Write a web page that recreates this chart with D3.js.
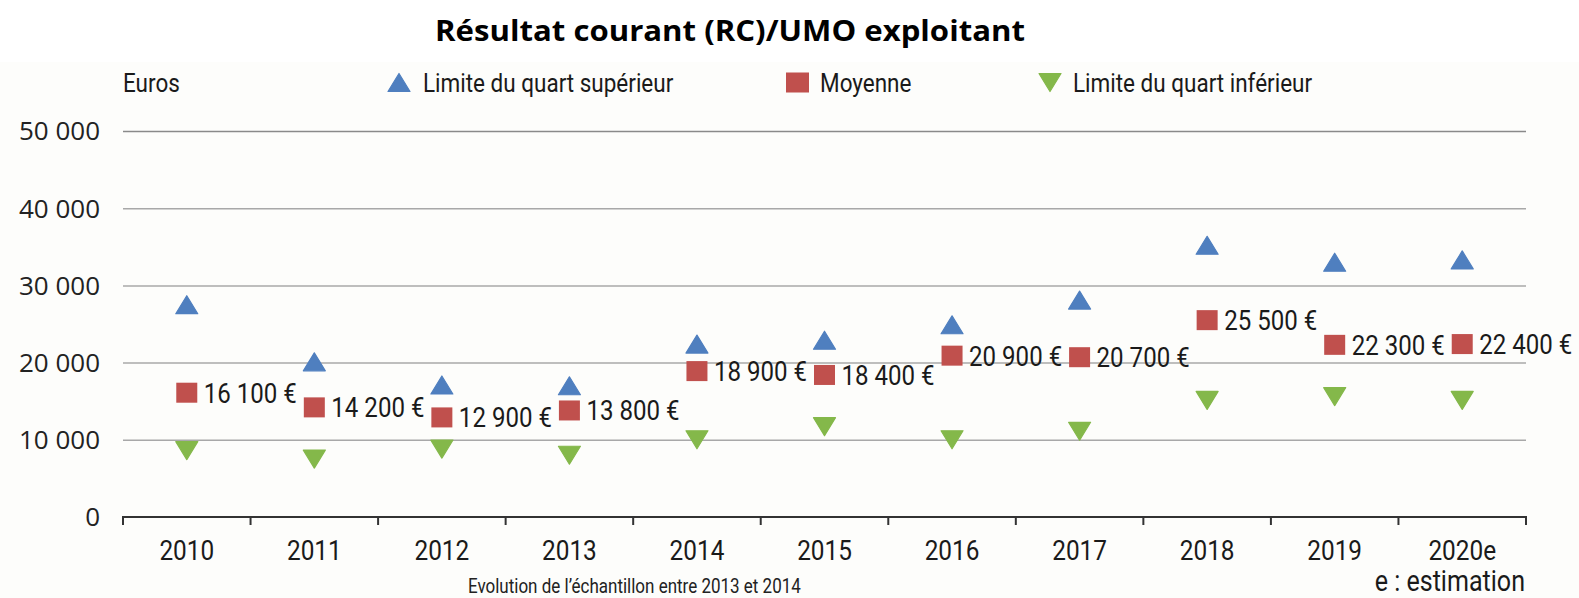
<!DOCTYPE html>
<html>
<head>
<meta charset="utf-8">
<script src="https://cdn.jsdelivr.net/npm/d3@7"></script>
<style>
  html, body { margin: 0; padding: 0; background: #ffffff; }
  svg { display: block; }
</style>
</head>
<body>
<svg id="chart" width="1579" height="598"></svg>
<script>
// ---- Data ----
const years = ["2010","2011","2012","2013","2014","2015","2016","2017","2018","2019","2020e"];
const upperQuartile = [27500, 20100, 17100, 17000, 22400, 22900, 24900, 28100, 35200, 33000, 33300];
const meanValues    = [16100, 14200, 12900, 13800, 18900, 18400, 20900, 20700, 25500, 22300, 22400];
const lowerQuartile = [8600, 7500, 8800, 8000, 10000, 11700, 10000, 11100, 15100, 15600, 15100];
const yTicks = [0, 10000, 20000, 30000, 40000, 50000];
const titleText = "Résultat courant (RC)/UMO exploitant";
const unitText = "Euros";
const legendLabels = ["Limite du quart supérieur", "Moyenne", "Limite du quart inférieur"];
const noteText = "Evolution de l’échantillon entre 2013 et 2014";
const estimationText = "e : estimation";

// ---- Setup ----
const W = 1579, H = 598;
const svg = d3.select("#chart");
const COND = "Roboto, 'Liberation Sans', sans-serif";
const BLUE = "#4f7fbf", RED = "#c0504d", GREEN = "#84b84a";

const fr = d3.formatLocale({decimal: ",", thousands: "\u00a0", grouping: [3], currency: ["", "\u00a0€"]});
const fmt = fr.format(",");

svg.append("rect").attr("x", 0).attr("y", 0).attr("width", W).attr("height", H).attr("fill", "#ffffff");
svg.append("rect").attr("x", 0).attr("y", 62).attr("width", W).attr("height", H - 62).attr("fill", "#fdfdfb");

const x = d3.scaleBand().domain(years).range([123, 1526]).padding(0);
const y = d3.scaleLinear().domain([0, 50000]).range([517, 131]);

// condensed text: horizontally scaled Roboto
function condText(parent, px, py, txt, size, anchor, sx, fill) {
  const g = parent.append("g").attr("transform", `translate(${px},${py}) scale(${sx},1)`);
  g.append("text")
    .attr("x", 0).attr("y", 0)
    .attr("text-anchor", anchor || "start")
    .attr("font-family", COND)
    .attr("font-size", size)
    .attr("fill", fill || "#1a1a1a")
    .text(txt);
  return g;
}

function triPath(w, h, up) {
  return up
    ? `M0,${-h/2} L${w/2},${h/2} L${-w/2},${h/2} Z`
    : `M0,${h/2} L${w/2},${-h/2} L${-w/2},${-h/2} Z`;
}

// ---- Title ----
const tg = svg.append("g");
const tt = tg.append("text")
  .attr("x", 0).attr("y", 0)
  .attr("text-anchor", "middle")
  .attr("font-family", "'Open Sans', Lato, sans-serif")
  .attr("font-weight", "bold")
  .attr("font-size", 28.5)
  .attr("fill", "#000")
  .text(titleText);
const tw = tt.node().getComputedTextLength();
tg.attr("transform", `translate(730,41) scale(${590 / tw},1)`);

// ---- Y axis / gridlines ----
const yAxis = d3.axisLeft(y)
  .tickValues(yTicks)
  .tickSize(-(x.range()[1] - x.range()[0]))
  .tickPadding(23)
  .tickFormat(d => fmt(d));
const gy = svg.append("g").attr("transform", `translate(${x.range()[0]},0)`).call(yAxis);
gy.select(".domain").remove();
gy.selectAll(".tick line").attr("stroke", "#a8a8a8").attr("stroke-width", 1.5)
  .filter(d => d === 0).remove();
gy.selectAll(".tick text")
  .attr("font-family", "'Open Sans', sans-serif")
  .attr("font-size", 26)
  .attr("fill", "#222")
  .attr("dy", "0.34em");
gy.select(".tick:last-of-type line").attr("stroke", "#8a8a8a");

// ---- X axis ----
const gx = svg.append("g");
gx.append("line")
  .attr("x1", x.range()[0]).attr("x2", x.range()[1])
  .attr("y1", y(0)).attr("y2", y(0))
  .attr("stroke", "#333").attr("stroke-width", 2.2);
const edges = d3.range(years.length + 1).map(i => x.range()[0] + i * x.step());
gx.selectAll("line.tk").data(edges).join("line")
  .attr("class", "tk")
  .attr("x1", d => d).attr("x2", d => d)
  .attr("y1", y(0) - 1).attr("y2", y(0) + 8)
  .attr("stroke", "#333").attr("stroke-width", 2);
years.forEach(yr => condText(gx, x(yr) + x.bandwidth() / 2, 560, yr, 28, "middle", 0.87));

// ---- Marks ----
const marks = svg.append("g");
marks.selectAll("path.up").data(years).join("path")
  .attr("class", "up")
  .attr("transform", (d, i) => `translate(${x(d) + x.bandwidth()/2},${y(upperQuartile[i])})`)
  .attr("d", triPath(22, 18, true))
  .attr("fill", BLUE).attr("stroke", BLUE).attr("stroke-width", 1.2).attr("stroke-linejoin", "round");

marks.selectAll("path.down").data(years).join("path")
  .attr("class", "down")
  .attr("transform", (d, i) => `translate(${x(d) + x.bandwidth()/2},${y(lowerQuartile[i])})`)
  .attr("d", triPath(22, 18, false))
  .attr("fill", GREEN).attr("stroke", GREEN).attr("stroke-width", 1.2).attr("stroke-linejoin", "round");

marks.selectAll("rect.mean").data(years).join("rect")
  .attr("class", "mean")
  .attr("x", d => x(d) + x.bandwidth()/2 - 10.5)
  .attr("y", (d, i) => y(meanValues[i]) - 10)
  .attr("width", 21).attr("height", 20)
  .attr("fill", RED);

years.forEach((yr, i) => {
  condText(marks, x(yr) + x.bandwidth()/2 + 17, y(meanValues[i]) + 10,
           fr.format("$,")(meanValues[i]), 28, "start", 0.86);
});

// ---- Legend ----
const lg = svg.append("g");
const LY = 82.5;
const LSX = 0.865;
condText(lg, 123, LY + 9.5, unitText, 26, "start", LSX);
lg.append("path").attr("transform", `translate(399,${LY})`).attr("d", triPath(22, 18, true))
  .attr("fill", BLUE).attr("stroke", BLUE).attr("stroke-width", 1.2).attr("stroke-linejoin", "round");
condText(lg, 423, LY + 9.5, legendLabels[0], 26, "start", LSX);
lg.append("rect").attr("x", 786).attr("y", LY - 10).attr("width", 23).attr("height", 20).attr("fill", RED);
condText(lg, 820, LY + 9.5, legendLabels[1], 26, "start", LSX);
lg.append("path").attr("transform", `translate(1050,${LY})`).attr("d", triPath(22, 18, false))
  .attr("fill", GREEN).attr("stroke", GREEN).attr("stroke-width", 1.2).attr("stroke-linejoin", "round");
condText(lg, 1073, LY + 9.5, legendLabels[2], 26, "start", LSX);

// ---- Notes ----
condText(svg, 468, 593, noteText, 20, "start", 0.85, "#222");
condText(svg, 1525, 591, estimationText, 29.5, "end", 0.85);
</script>
</body>
</html>
